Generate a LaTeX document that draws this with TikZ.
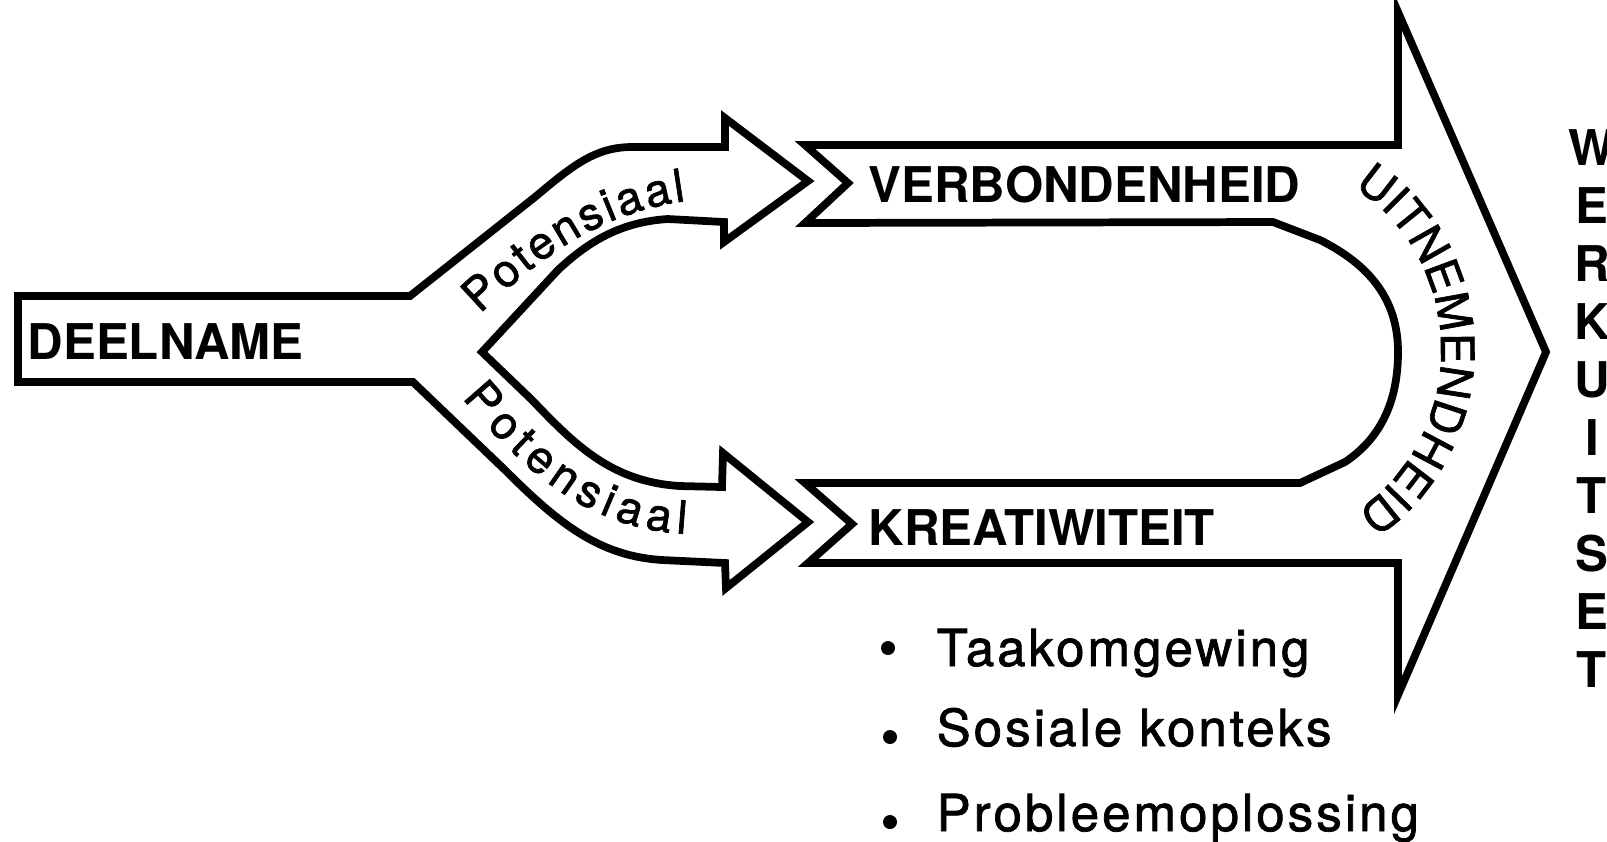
\documentclass[tikz,border=0pt]{standalone}
\usepackage{fontspec}
\setmainfont{TeX Gyre Heros}
\newfontfamily\spacedfont[LetterSpace=6,FakeBold=1.5]{TeX Gyre Heros}
\newfontfamily\mediumfont[FakeBold=1.5]{TeX Gyre Heros}
\usetikzlibrary{decorations.text}
\newcommand\potfont{\mediumfont\fontsize{13}{15}\selectfont}
\newcommand\arcfont{\mediumfont\fontsize{13}{15}\selectfont}

\begin{document}
\begin{tikzpicture}[x=0.01cm, y=-0.01cm,
  outline/.style={draw=black, line width=2.2pt, line join=miter},
  boldtxt/.style={font=\fontsize{14}{16}\selectfont\bfseries, inner sep=0pt, anchor=base west},
  bullettxt/.style={font=\spacedfont\fontsize{14.5}{17}\selectfont, inner sep=0pt, anchor=base west},
  pathtext/.style={decorate, decoration={text along path, text align=fit to path, text={#1}}}]
\useasboundingbox (0,0) rectangle (1607,841);

% entry bar splitting into two curved arrows
\draw[outline] (410,296) -- (535,197) .. controls (572,166) and (595,147) .. (632,147)
  -- (725,147) -- (725,118) -- (808,181) -- (724,242) -- (724,222) -- (668,219)
  .. controls (620,222) and (588,242) .. (558,270) -- (482,352)
  -- (532,400) .. controls (575,445) and (612,482) .. (680,486) -- (722,487)
  -- (723,453) -- (808,522) -- (726,588) -- (725,563) -- (662,560)
  .. controls (600,556) and (560,525) .. (505,470) -- (413,382)
  -- (18,382) -- (18,296) -- cycle;

% two bands joined by a U-bend into the large arrow
\draw[outline] (805,145) -- (1398,145) -- (1398,12) -- (1546,352) -- (1398,695)
  -- (1398,563) -- (808,563) -- (852,524) -- (805,483) -- (1300,483) -- (1345,462)
  .. controls (1378,440) and (1398,405) .. (1398,352)
  .. controls (1398,300) and (1370,265) .. (1320,240) -- (1273,222)
  -- (805,223) -- (848,183) -- cycle;

% labels
\node[boldtxt] (deelname) at (27,359) {DEELNAME};
\node[boldtxt] (verbond) at (868,202) {VERBONDENHEID};
\node[boldtxt] (kreat) at (868,545) {KREATIWITEIT};

% curved labels
\path[pathtext={|\potfont|Potensiaal}] (480,314) .. controls (545,252) and (605,212) .. (686,201);
\path[pathtext={|\potfont|Potensiaal}] (462,398) .. controls (530,478) and (590,528) .. (686,534);
\path[pathtext={|\arcfont|UITNEMENDHEID}] (1261,350) ++(-59:180 and 190)
  arc[start angle=-59, end angle=58, x radius=180, y radius=190];

% vertical word
\foreach \ch [count=\i from 0] in {W,E,R,K,U,I,T,S,E,T}
  \node[boldtxt, anchor=base] (w\i) at (1592,{165+58.1*\i}) {\ch};

% bullet list
\fill (888,648) circle[radius=7];
\fill (890,737) circle[radius=7];
\fill (890,822) circle[radius=7];
\node[bullettxt] (b1) at (936,666) {Taakomgewing};
\node[bullettxt] (b2) at (936,746) {Sosiale konteks};
\node[bullettxt] (b3) at (936,831) {Probleemoplossing};
\end{tikzpicture}
\end{document}
